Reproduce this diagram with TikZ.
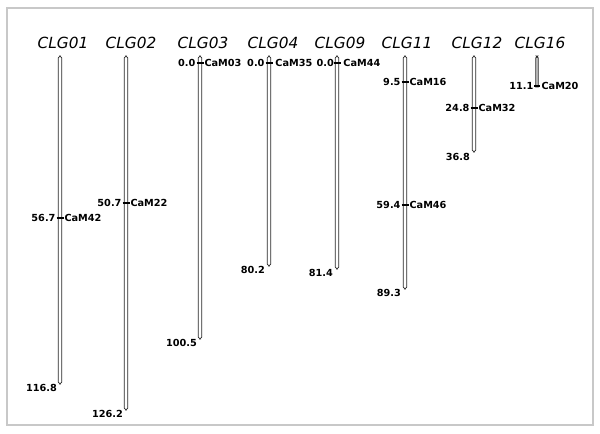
\documentclass[tikz,border=0pt]{standalone}
\usepackage{fontspec}
\newfontfamily\lblfamily{DejaVu Sans}
\newfontfamily\ttlfamily{DejaVu Sans}
\usetikzlibrary{positioning}
\definecolor{frameGray}{RGB}{200,200,200}

\begin{document}
\begin{tikzpicture}[
  x=0.75pt, y=-0.75pt,
  ttl/.style={
    font=\ttlfamily\itshape\fontsize{11.5}{13}\selectfont,
    anchor=base,
    inner sep=0pt,
  },
  cmpos/.style={
    font=\lblfamily\bfseries\fontsize{7.3}{8}\selectfont,
    anchor=east,
    inner sep=0.6pt,
  },
  mkname/.style={
    font=\lblfamily\bfseries\fontsize{7.3}{8}\selectfont,
    anchor=west,
    inner sep=0.6pt,
  },
  chrom/.style={
    draw=black!85,
    line width=0.55pt,
    rounded corners=1.4pt,
  },
  tickmk/.style={
    line width=1.7pt,
  },
]

  \useasboundingbox (0,0) rectangle (600,433);
  \draw[frameGray, line width=0.8pt] (7,8) rectangle (593,425);

  % titles
  \node[ttl] (t01) at (63,48) {CLG01};
  \node[ttl] (t02) at (131,48) {CLG02};
  \node[ttl] (t03) at (203,48) {CLG03};
  \node[ttl] (t04) at (273,48) {CLG04};
  \node[ttl] (t09) at (340,48) {CLG09};
  \node[ttl] (t11) at (407,48) {CLG11};
  \node[ttl] (t12) at (477,48) {CLG12};
  \node[ttl] (t16) at (540,48) {CLG16};

  % CLG01
  \draw[chrom] (58.3,56) rectangle (61.7,384);
  \coordinate (m42) at (60,218);
  \draw[tickmk] (m42) ++(-3.5,0) -- ++(7,0);
  \node[cmpos] (p42) at ([xshift=-2.6pt] m42) {56.7};
  \node[mkname] (n42) at ([xshift=2.6pt] m42) {CaM42};
  \node[cmpos] (e01) at (58,388) {116.8};

  % CLG02
  \draw[chrom] (124.3,56) rectangle (127.7,410);
  \coordinate (m22) at (126,203);
  \draw[tickmk] (m22) ++(-3.5,0) -- ++(7,0);
  \node[cmpos] (p22) at ([xshift=-2.6pt] m22) {50.7};
  \node[mkname] (n22) at ([xshift=2.6pt] m22) {CaM22};
  \node[cmpos] (e02) at (124,414) {126.2};

  % CLG03
  \draw[chrom] (198.3,56) rectangle (201.7,339);
  \coordinate (m03) at (200,63);
  \draw[tickmk] (m03) ++(-3.5,0) -- ++(7,0);
  \node[cmpos] (p03) at ([xshift=-2.6pt] m03) {0.0};
  \node[mkname] (n03) at ([xshift=2.6pt] m03) {CaM03};
  \node[cmpos] (e03) at (198,343) {100.5};

  % CLG04
  \draw[chrom] (267.3,56) rectangle (270.7,266);
  \coordinate (m35) at (269,63);
  \draw[tickmk] (m35) ++(-3.5,0) -- ++(7,0);
  \node[cmpos] (p35) at ([xshift=-2.6pt] m35) {0.0};
  \node[mkname] (n35) at ([xshift=4pt] m35) {CaM35};
  \node[cmpos] (e04) at (266,270) {80.2};

  % CLG09
  \draw[chrom] (335.3,56) rectangle (338.7,269);
  \coordinate (m44) at (337,63);
  \draw[tickmk] (m44) ++(-3.5,0) -- ++(7,0);
  \node[cmpos] (p44) at ([xshift=-1.6pt] m44) {0.0};
  \node[mkname] (n44) at ([xshift=4pt] m44) {CaM44};
  \node[cmpos] (e09) at (334,273) {81.4};

  % CLG11
  \draw[chrom] (403.3,56) rectangle (406.7,289);
  \coordinate (m16) at (405,82);
  \draw[tickmk] (m16) ++(-3.5,0) -- ++(7,0);
  \node[cmpos] (p16) at ([xshift=-2.6pt] m16) {9.5};
  \node[mkname] (n16) at ([xshift=2.6pt] m16) {CaM16};
  \coordinate (m46) at (405,205);
  \draw[tickmk] (m46) ++(-3.5,0) -- ++(7,0);
  \node[cmpos] (p46) at ([xshift=-2.6pt] m46) {59.4};
  \node[mkname] (n46) at ([xshift=2.6pt] m46) {CaM46};
  \node[cmpos] (e11) at (402,293) {89.3};

  % CLG12
  \draw[chrom] (472.3,56) rectangle (475.7,152);
  \coordinate (m32) at (474,108);
  \draw[tickmk] (m32) ++(-3.5,0) -- ++(7,0);
  \node[cmpos] (p32) at ([xshift=-2.6pt] m32) {24.8};
  \node[mkname] (n32) at ([xshift=2.6pt] m32) {CaM32};
  \node[cmpos] (e12) at (471,157) {36.8};

  % CLG16
  \draw[chrom, line width=0.7pt] (535.8,56) rectangle (538.2,87);
  \coordinate (m20) at (537,86);
  \draw[tickmk] (m20) ++(-3,0) -- ++(6,0);
  \node[cmpos] (p20) at ([xshift=-2pt] m20) {11.1};
  \node[mkname] (n20) at ([xshift=2.6pt] m20) {CaM20};

\end{tikzpicture}
\end{document}
